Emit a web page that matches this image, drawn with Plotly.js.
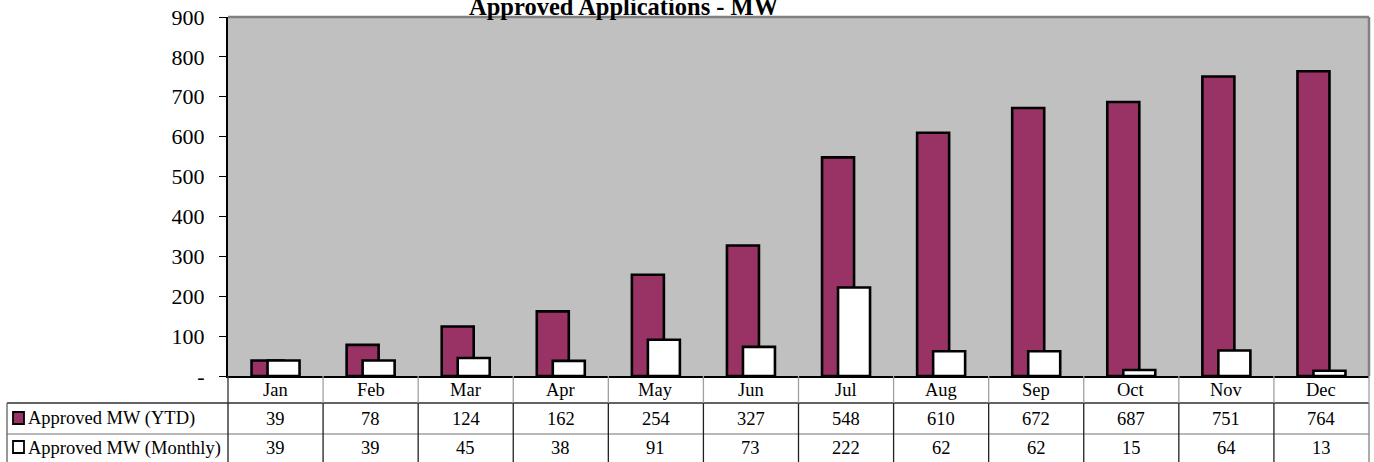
<!DOCTYPE html>
<html>
<head>
<meta charset="utf-8">
<script src="https://cdn.plot.ly/plotly-3.0.1.min.js"></script>
<style>html,body{margin:0;padding:0;background:#fff;}#chart{width:1374px;height:462px;}</style>
</head>
<body>
<div id="chart"></div>
<script>
// ---- data ----
const months = ["Jan","Feb","Mar","Apr","May","Jun","Jul","Aug","Sep","Oct","Nov","Dec"];
const ytdMW = [39,78,124,162,254,327,548,610,672,687,751,764];
const monthlyMW = [39,39,45,38,91,73,222,62,62,15,64,13];
const seriesNames = ["Approved MW (YTD)","Approved MW (Monthly)"];
const yTickVals = [0,100,200,300,400,500,600,700,800,900];
const yTickText = ["-","100","200","300","400","500","600","700","800","900"];
const chartTitle = "Approved Applications - MW";

// ---- layout helpers (pixel -> paper) ----
const W = 1374, H = 462;
const L = 228, R = 1369, T = 17, B = 376;
const px = x => (x - L) / (R - L);
const py = y => (B - y) / (B - T);
const FONT = "Liberation Serif";
const plum = "#993366";
const catW = (R - L) / months.length;
const barW = 32 / catW;

const traces = [
  {type:"bar", name:seriesNames[0], x:months, y:ytdMW, width:barW, offset:-24/catW,
   marker:{color:plum, line:{color:"#000", width:2.6}}, hoverinfo:"y"},
  {type:"bar", name:seriesNames[1], x:months, y:monthlyMW, width:barW, offset:-8/catW,
   marker:{color:"#fff", line:{color:"#000", width:2.6}}, hoverinfo:"y"}
];

const shapes = [];
const annotations = [];
// plot border (gray top/right)
shapes.push({type:"line", xref:"paper", yref:"paper", x0:0, x1:1, y0:1, y1:1, line:{color:"#808080", width:2.5}});
shapes.push({type:"line", xref:"paper", yref:"paper", x0:1, x1:1, y0:0, y1:1, line:{color:"#808080", width:2.5}});
// table horizontal lines
shapes.push({type:"line", xref:"paper", yref:"paper", x0:px(7), x1:1, y0:py(403), y1:py(403), line:{color:"#303030", width:1.3}});
shapes.push({type:"line", xref:"paper", yref:"paper", x0:px(7), x1:1, y0:py(434), y1:py(434), line:{color:"#a0a0a0", width:1.3}});
// left border of legend column
shapes.push({type:"line", xref:"paper", yref:"paper", x0:px(7), x1:px(7), y0:py(403), y1:py(470), line:{color:"#606060", width:1.3}});
// vertical category boundaries
for (let i = 0; i <= months.length; i++) {
  const xp = i / months.length;
  shapes.push({type:"line", xref:"paper", yref:"paper", x0:xp, x1:xp, y0:py(376), y1:py(403),
    line:{color: i === 0 ? "#303030" : "#a0a0a0", width:1.3}});
  shapes.push({type:"line", xref:"paper", yref:"paper", x0:xp, x1:xp, y0:py(403), y1:py(470),
    line:{color: i === months.length ? "#808080" : "#202020", width:1.3}});
}
// legend keys
const keyRows = [[412, 424, plum], [441, 453, "#fff"]];
keyRows.forEach((k, idx) => {
  shapes.push({type:"rect", xref:"paper", yref:"paper", x0:px(13), x1:px(24), y0:py(k[0]), y1:py(k[1]),
    fillcolor:k[2], line:{color:"#000", width:1.8}});
  annotations.push({xref:"paper", yref:"paper", x:px(26), y:py(idx === 0 ? 418.5 : 448),
    xanchor:"left", yanchor:"middle", showarrow:false, text:seriesNames[idx],
    font:{family:FONT, size:18.5, color:"#000"}});
});
// table cells
months.forEach((m, i) => {
  annotations.push({xref:"x", yref:"paper", x:m, y:py(390), xanchor:"center", yanchor:"middle",
    showarrow:false, text:m, font:{family:FONT, size:18.5, color:"#000"}});
  annotations.push({xref:"x", yref:"paper", x:m, y:py(418.5), xanchor:"center", yanchor:"middle",
    showarrow:false, text:String(ytdMW[i]), font:{family:FONT, size:18.5, color:"#000"}});
  annotations.push({xref:"x", yref:"paper", x:m, y:py(448), xanchor:"center", yanchor:"middle",
    showarrow:false, text:String(monthlyMW[i]), font:{family:FONT, size:18.5, color:"#000"}});
});
// title
annotations.push({xref:"paper", yref:"paper", x:px(623.5), y:py(7), xanchor:"center", yanchor:"middle",
  showarrow:false, text:"<b>" + chartTitle + "</b>", font:{family:FONT, size:24.5, color:"#000"}});

const layout = {
  width:W, height:H,
  margin:{l:L, r:W - R, t:T, b:H - B, pad:0},
  paper_bgcolor:"#fff", plot_bgcolor:"#c0c0c0",
  barmode:"overlay", showlegend:false,
  font:{family:FONT, color:"#000"},
  xaxis:{type:"category", range:[-0.5, months.length - 0.5], showticklabels:false, ticks:"",
    showgrid:false, zeroline:false, showline:true, linecolor:"#000", linewidth:1.5, fixedrange:true},
  yaxis:{range:[0, 900], tickvals:yTickVals, ticktext:yTickText, ticks:"outside", ticklen:7,
    tickcolor:"#000", tickwidth:1, showgrid:false, zeroline:false, showline:true, linecolor:"#000",
    linewidth:2, ticklabelstandoff:10, tickfont:{family:FONT, size:22, color:"#000"}, fixedrange:true},
  shapes:shapes, annotations:annotations
};
Plotly.newPlot("chart", traces, layout, {displayModeBar:false, staticPlot:true});
</script>
</body>
</html>
